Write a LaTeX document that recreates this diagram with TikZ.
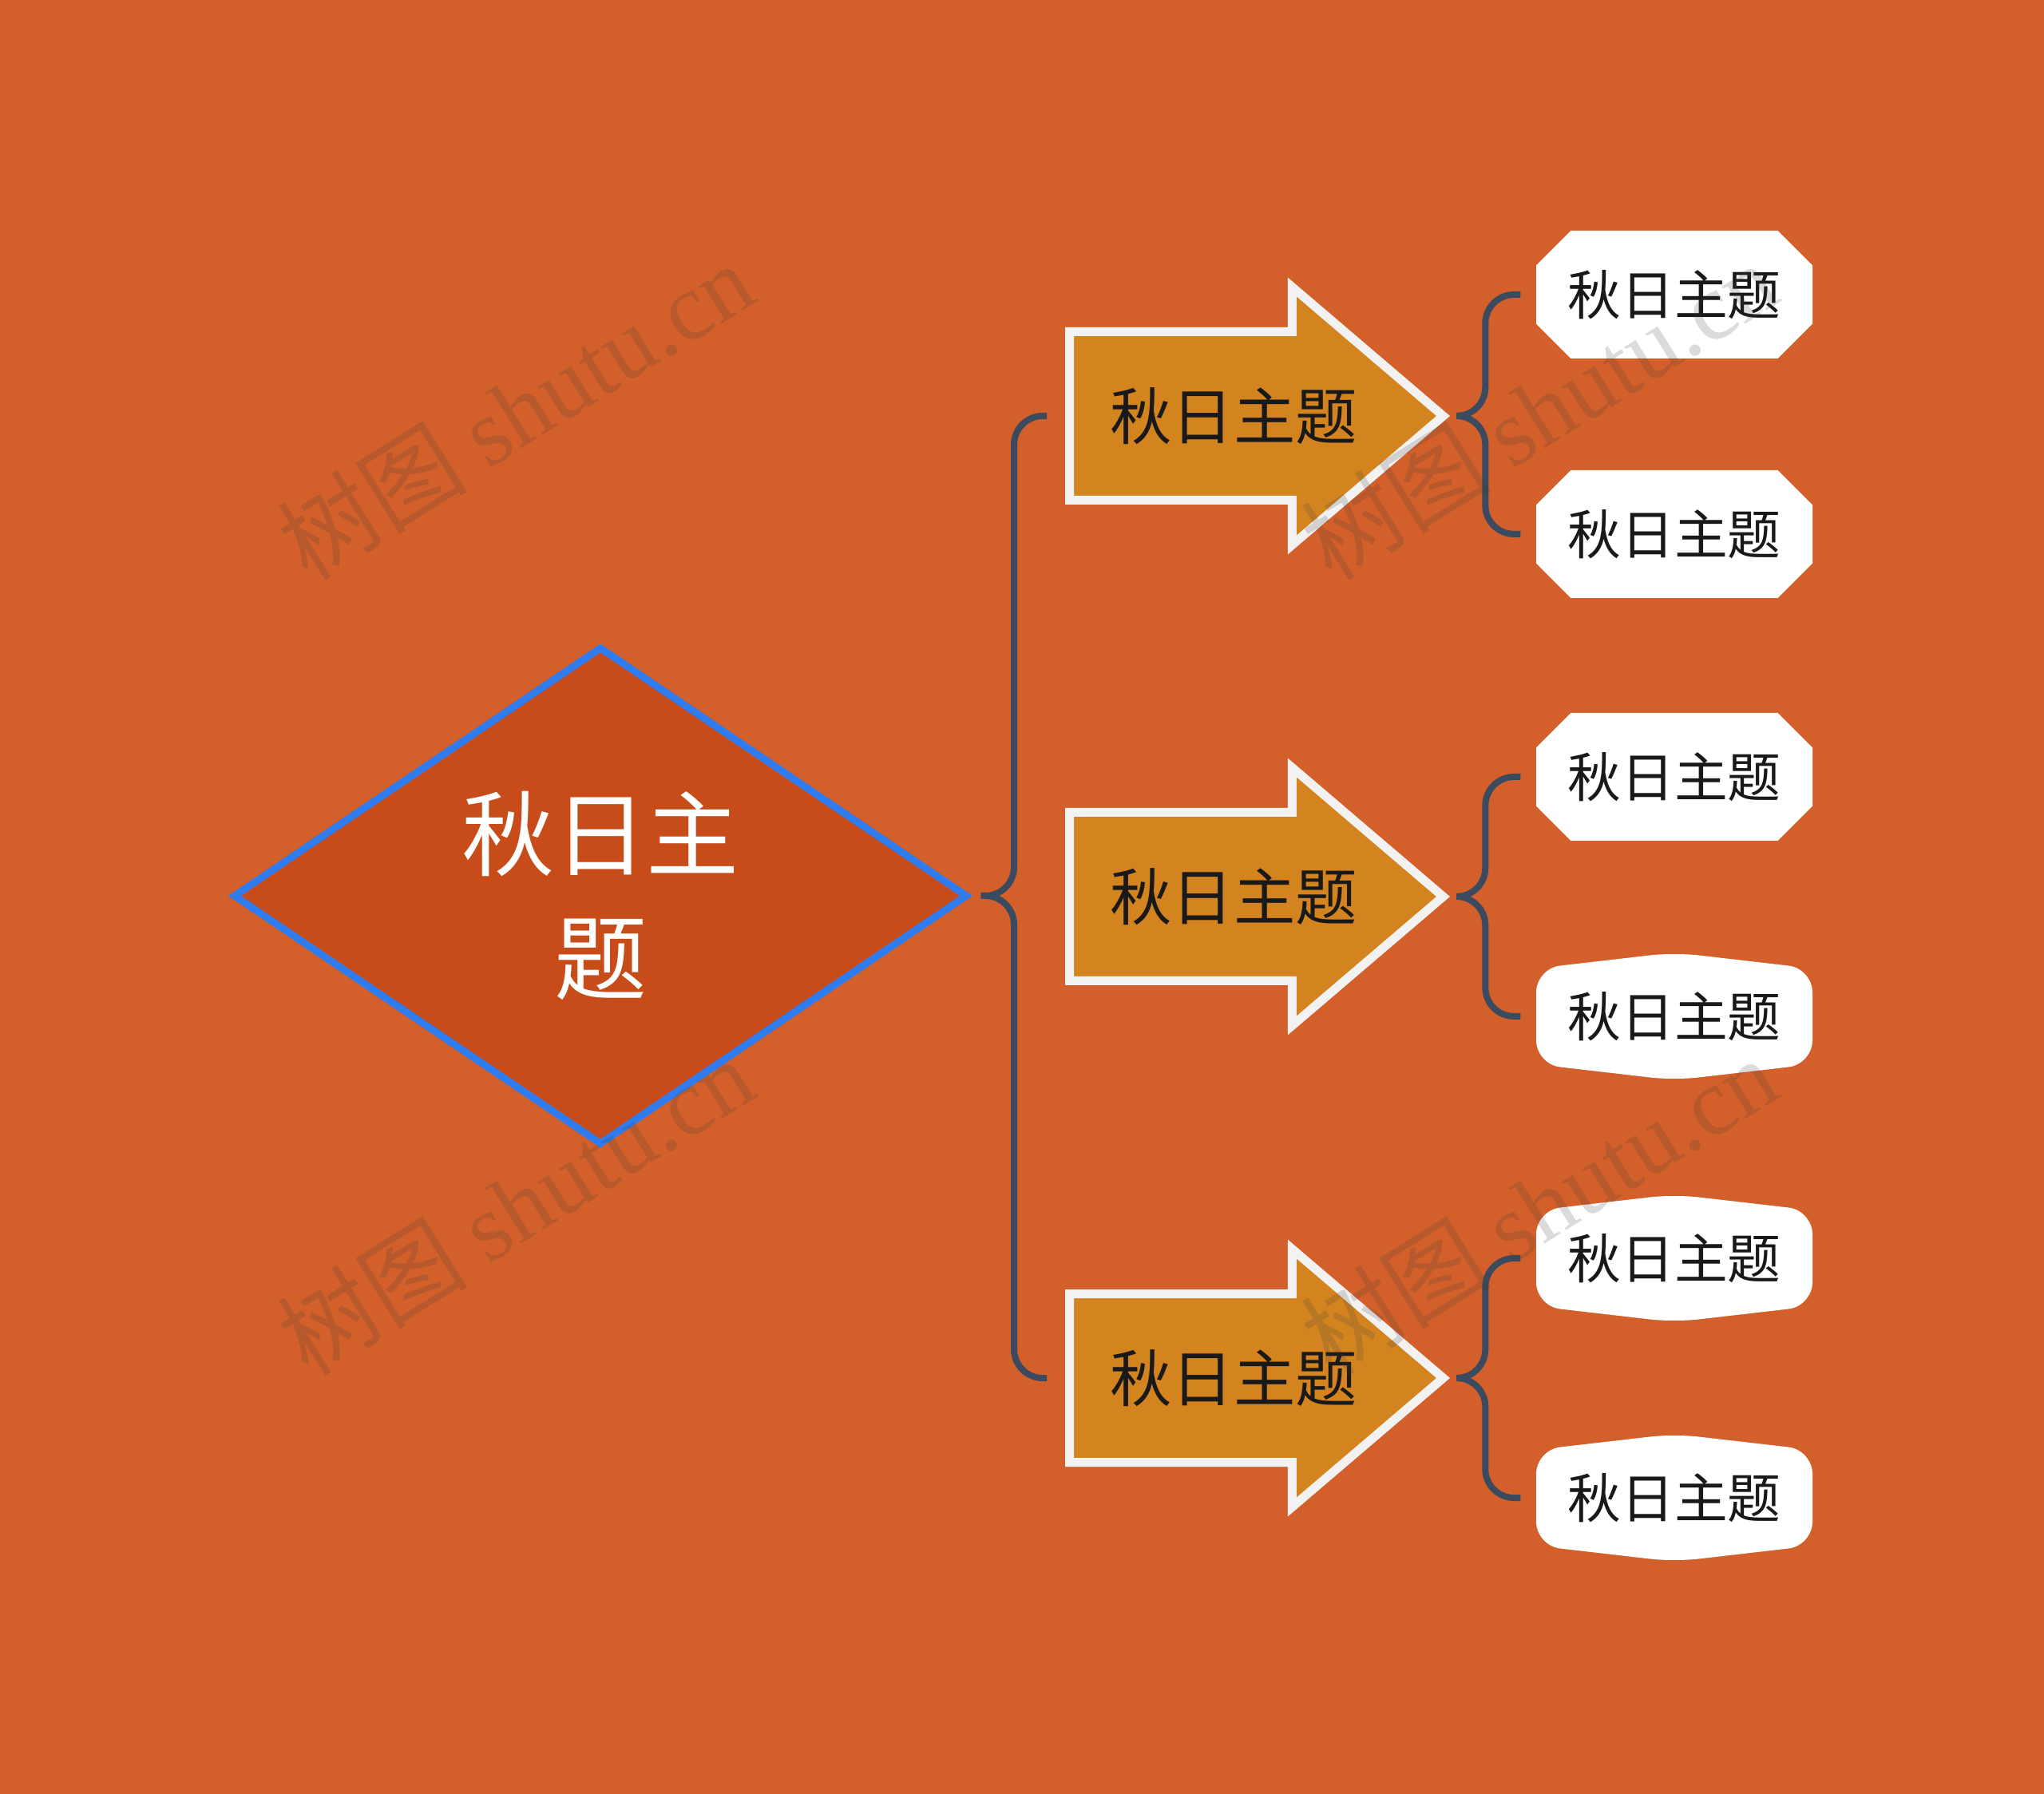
\documentclass[tikz,border=0pt]{standalone}
\usepackage{fontspec}
\setmainfont{Noto Sans CJK SC}
\newfontfamily\wmserif{Liberation Serif}
\usetikzlibrary{shapes.geometric, shapes.arrows, shapes.misc, positioning, calc}

\definecolor{bgorange}{HTML}{D3602A}
\definecolor{rootred}{HTML}{C84C19}
\definecolor{rootblue}{HTML}{2F7BF0}
\definecolor{arrowgold}{HTML}{D4841F}
\definecolor{arrowedge}{HTML}{F2F2F2}
\definecolor{braceblue}{HTML}{3B4A5E}
\definecolor{wmgray}{HTML}{3C3C3C}

\begin{document}
\begin{tikzpicture}
    \tikzstyle{rootblock} = [diamond, draw=rootblue, line width=0.09cm, fill=rootred, minimum width=9.2cm, minimum height=6.24cm, inner sep=0pt, align=center, text=white, font=\fontsize{33pt}{44pt}\selectfont]
    \tikzstyle{arrowblock} = [single arrow, draw=arrowedge, line width=0.11cm, fill=arrowgold, single arrow head extend=0.56cm, single arrow tip angle=81, minimum height=4.68cm, text height=1.0cm, text depth=1.0cm, inner sep=0pt]
    \tikzstyle{arrowtext} = [inner sep=0pt, font=\fontsize{22pt}{26pt}\selectfont, text=black!90]
    \tikzstyle{leafblock} = [chamfered rectangle, chamfered rectangle xsep=0.4cm, fill=white, minimum width=3.46cm, minimum height=1.6cm, inner sep=0pt, font=\fontsize{19pt}{23pt}\selectfont, text=black!90]
    \tikzstyle{hexleaf} = [rectangle, minimum width=3.46cm, minimum height=1.6cm, inner sep=0pt, font=\fontsize{19pt}{23pt}\selectfont, text=black!90]
    \tikzstyle{brace} = [draw=braceblue, line width=0.08cm, rounded corners=0.36cm]
    \tikzstyle{watermark} = [rotate=32, text=wmgray, opacity=0.18, font=\fontsize{34pt}{38pt}\selectfont]

    \useasboundingbox (0,0) rectangle (25.6,-22.47);
    \fill[bgorange] (0,0) rectangle (25.6,-22.47);

    % leaf positions
    \foreach \n/\y in {1/-3.69, 2/-6.69, 3/-9.73, 4/-12.73, 5/-15.76, 6/-18.76}
        \coordinate (c\n) at (20.97,\y);

    % white hexagons behind the lower leaves
    \foreach \n in {4,5,6}
        \fill[white, rounded corners=0.3cm] ($(c\n)+(-1.73,0.6)$) -- ($(c\n)+(0,0.8)$) -- ($(c\n)+(1.73,0.6)$) -- ($(c\n)+(1.73,-0.6)$) -- ($(c\n)+(0,-0.8)$) -- ($(c\n)+(-1.73,-0.6)$) -- cycle;

    \node[rootblock] (root) at (7.52,-11.22) {秋日主\\题};

    \foreach \i/\y in {1/-5.21, 2/-11.23, 3/-17.26} {
        \node[arrowblock, anchor=tail] (a\i) at (13.34,\y) {};
        \node[arrowtext] (t\i) at ([xshift=2.11cm]a\i.tail) {秋日主题};
    }

    \foreach \n in {1,2,3}
        \node[leafblock] (l\n) at (c\n) {秋日主题};
    \foreach \n in {4,5,6}
        \node[hexleaf] (l\n) at (c\n) {秋日主题};

    % big brace from the root
    \coordinate (rootcusp) at ($(root.east)+(0.12,0)$);
    \draw[brace] ([xshift=-0.23cm]a1.tail) -- ++(-0.41,0) |- (rootcusp);
    \draw[brace] ([xshift=-0.23cm]a3.tail) -- ++(-0.41,0) |- (rootcusp);

    % small braces from the arrow tips
    \foreach \i/\a/\b in {1/1/2, 2/3/4, 3/5/6} {
        \coordinate (tipcusp\i) at ($(a\i.tip)+(0.22,0)$);
        \draw[brace] ([xshift=-0.19cm]l\a.west) -- ++(-0.44,0) |- (tipcusp\i);
        \draw[brace] ([xshift=-0.19cm]l\b.west) -- ++(-0.44,0) |- (tipcusp\i);
    }

    % watermarks
    \foreach \x/\y [count=\k] in {6.45/-5.14, 19.27/-5.14, 6.45/-15.1, 19.27/-15.1}
        \node[watermark] (wm\k) at (\x,\y) {树图 {\wmserif shutu.cn}};
\end{tikzpicture}
\end{document}
